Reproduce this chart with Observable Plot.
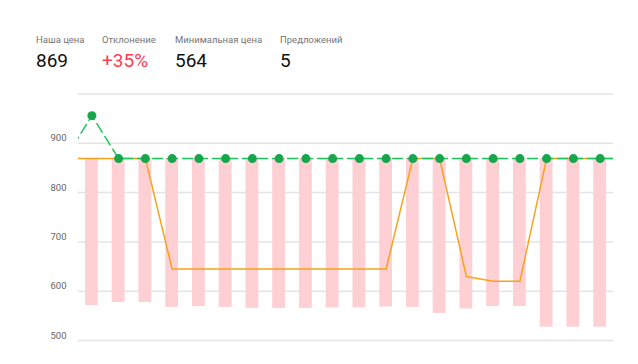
<!DOCTYPE html>
<html><head><meta charset="utf-8">
<script src="https://cdn.jsdelivr.net/npm/d3@7"></script>
<script src="https://cdn.jsdelivr.net/npm/@observablehq/plot@0.6"></script>
<style>
body{margin:0;background:#fff;font-family:Roboto,sans-serif;}
#header{position:relative;height:80px;width:638px;}
.stat{position:absolute;top:34px;}
.lbl{font-size:9.5px;color:#757575;line-height:12px;}
.val{font-size:19px;color:#111;line-height:22px;margin-top:4px;}
#chart svg{display:block;}
</style></head><body>
<div id="header"></div>
<div id="chart"></div>
<script>
// Header stats
const statLabels = ["Наша цена", "Отклонение", "Минимальная цена", "Предложений"];
const statValues = ["869", "+35%", "564", "5"];
const statColors = ["#111", "#ff3b4e", "#111", "#111"];
const statLeft = [36, 102, 175, 280];

// Chart data
const ourPrice = 869;
const barIndex = [1,2,3,4,5,6,7,8,9,10,11,12,13,14,15,16,17,18,19,20];
const barLow = [571,577,577,567,569,567,565,565,565,566,566,568,567,555,564,569,569,527,527,527];
const lineIndex = [0,1,2,3,4,5,6,7,8,9,10,11,12,13,14,15,16,17,18,19,20,21];
const orangeValues = [869,869,869,869,645,645,645,645,645,645,645,645,645,869,869,630,620,620,869,869,869,869];
const greenValues = [869,956,869,869,869,869,869,869,869,869,869,869,869,869,869,869,869,869,869,869,869,869];
const gridValues = [500,600,700,800,900,1000];
const tickValues = [500,600,700,800,900];

const header = document.getElementById("header");
statLabels.forEach((l, i) => {
  const d = document.createElement("div");
  d.className = "stat";
  d.style.left = statLeft[i] + "px";
  d.innerHTML = `<div class="lbl">${l}</div><div class="val" style="color:${statColors[i]}">${statValues[i]}</div>`;
  header.appendChild(d);
});

const bars = barIndex.map((x, i) => ({x, low: barLow[i], high: ourPrice}));
const orange = lineIndex.map((x, i) => ({x, y: orangeValues[i]}));
const green = lineIndex.map((x, i) => ({x, y: greenValues[i]}));
const dots = green.filter(d => d.x >= 1 && d.x <= 20);

const chart = Plot.plot({
  width: 638,
  height: 284,
  marginLeft: 78,
  marginRight: 25,
  marginTop: 13.5,
  marginBottom: 24,
  style: {fontFamily: "Roboto, sans-serif", fontSize: "9.5px", color: "#666", background: "#fff"},
  x: {domain: [0.5, 20.5], axis: null},
  y: {domain: [500, 1000], axis: null},
  marks: [
    Plot.ruleY(gridValues, {stroke: "#e4e4e4", strokeWidth: 1.5}),
    Plot.axisY(tickValues, {tickSize: 0, tickPadding: 12, dy: -5, fontSize: 9.5, label: null}),
    Plot.rect(bars, {x1: d => d.x - 0.24, x2: d => d.x + 0.24, y1: "low", y2: "high", fill: "#ffd0d3"}),
    Plot.line(orange, {x: "x", y: "y", stroke: "#f8a11c", strokeWidth: 1.5, clip: true}),
    Plot.line(green, {x: "x", y: "y", stroke: "#1fc35c", strokeWidth: 1.5, strokeDasharray: "10,5", clip: true}),
    Plot.dot(dots, {x: "x", y: "y", r: 4.5, fill: "#16a64c"})
  ]
});
document.getElementById("chart").appendChild(chart);
</script>
</body></html>
